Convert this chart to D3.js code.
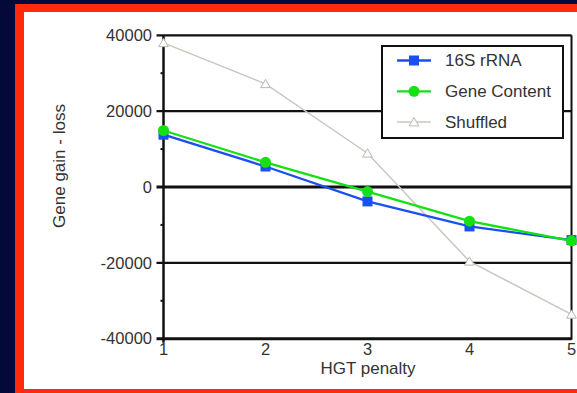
<!DOCTYPE html>
<html>
<head>
<meta charset="utf-8">
<script src="https://cdn.jsdelivr.net/npm/d3@7"></script>
<style>
  body { margin: 0; background: #030a3a; }
  svg { display: block; }
</style>
</head>
<body>
<div id="chart"></div>
<script>
// HGT penalty vs gene gain - loss
const penalties = [1, 2, 3, 4, 5];
const rrna16s = [13800, 5400, -3800, -10400, -14000];
const geneContent = [14900, 6500, -1200, -9000, -14200];
const shuffled = [38000, 27200, 8900, -19600, -33600];
const yTicks = [-40000, -20000, 0, 20000, 40000];
const yMinor = [-30000, -10000, 10000, 30000];

const series = [
  { name: "16S rRNA", values: rrna16s, color: "#1a4ff0", marker: "square" },
  { name: "Gene Content", values: geneContent, color: "#14e014", marker: "circle" },
  { name: "Shuffled", values: shuffled, color: "#c8c8c0", marker: "triangle" }
];

const width = 577, height = 393;
const font = "Liberation Sans, Arial, sans-serif";

const svg = d3.select("#chart").append("svg")
  .attr("width", width)
  .attr("height", height);

// frame: red border on left, top and bottom
svg.append("rect").attr("x", 15).attr("y", 4).attr("width", width - 15).attr("height", height - 4).attr("fill", "#ff2a0a");
svg.append("rect").attr("x", 24).attr("y", 12).attr("width", width - 24).attr("height", 377).attr("fill", "#ffffff");

const x = d3.scaleLinear().domain([1, 5]).range([163.5, 571.5]);
const y = d3.scaleLinear().domain([-40000, 40000]).range([338.7, 35.3]);

// horizontal lines
svg.append("g").selectAll("line")
  .data(yTicks)
  .join("line")
    .attr("x1", x(1) - 7)
    .attr("x2", x(5))
    .attr("y1", d => y(d))
    .attr("y2", d => y(d))
    .attr("stroke", "#111")
    .attr("stroke-width", d => (d === 0 || d === -40000) ? 3 : 2.2);

svg.append("g").selectAll("line")
  .data(yMinor)
  .join("line")
    .attr("x1", x(1) - 3)
    .attr("x2", x(1))
    .attr("y1", d => y(d))
    .attr("y2", d => y(d))
    .attr("stroke", "#111")
    .attr("stroke-width", 2);

// left & right borders
svg.append("line").attr("x1", x(1)).attr("x2", x(1)).attr("y1", y(40000)).attr("y2", y(-40000) + 4)
  .attr("stroke", "#111").attr("stroke-width", 2.5);
svg.append("line").attr("x1", x(5)).attr("x2", x(5)).attr("y1", y(40000)).attr("y2", y(-40000) + 1)
  .attr("stroke", "#111").attr("stroke-width", 2);

// tick labels
svg.append("g").selectAll("text")
  .data(yTicks)
  .join("text")
    .attr("x", 152)
    .attr("y", d => y(d))
    .attr("dy", "0.35em")
    .attr("text-anchor", "end")
    .attr("font-family", font)
    .attr("font-size", 16.5)
    .attr("fill", "#333")
    .text(d => d);

svg.append("g").selectAll("text")
  .data(penalties)
  .join("text")
    .attr("x", d => x(d))
    .attr("y", 355)
    .attr("text-anchor", "middle")
    .attr("font-family", font)
    .attr("font-size", 16.5)
    .attr("fill", "#333")
    .text(d => d);

svg.append("text")
  .attr("x", 368)
  .attr("y", 374)
  .attr("text-anchor", "middle")
  .attr("font-family", font)
  .attr("font-size", 17)
  .attr("fill", "#333")
  .text("HGT penalty");

svg.append("text")
  .attr("transform", "translate(65,166) rotate(-90)")
  .attr("text-anchor", "middle")
  .attr("font-family", font)
  .attr("font-size", 17)
  .attr("fill", "#333")
  .text("Gene gain - loss");

const line = d3.line()
  .x((d, i) => x(penalties[i]))
  .y(d => y(d));

function drawMarker(g, s, cx, cy) {
  if (s.marker === "square") {
    g.append("rect").attr("x", cx - 5).attr("y", cy - 5).attr("width", 10).attr("height", 10).attr("fill", s.color);
  } else if (s.marker === "circle") {
    g.append("circle").attr("cx", cx).attr("cy", cy).attr("r", 5.5).attr("fill", s.color);
  } else {
    g.append("path")
      .attr("d", d3.symbol(d3.symbolTriangle, 40)())
      .attr("transform", `translate(${cx},${cy + 1})`)
      .attr("fill", "#fff")
      .attr("stroke", "#b8b8b0")
      .attr("stroke-width", 1);
  }
}

// draw shuffled first, then 16S, then gene content on top
[series[2], series[0], series[1]].forEach(s => {
  const g = svg.append("g");
  g.append("path")
    .attr("d", line(s.values))
    .attr("fill", "none")
    .attr("stroke", s.color)
    .attr("stroke-width", s.marker === "triangle" ? 1.5 : 2.3);
  s.values.forEach((v, i) => drawMarker(g, s, x(penalties[i]), y(v)));
});

// legend
const legend = svg.append("g");
legend.append("rect")
  .attr("x", 382).attr("y", 46)
  .attr("width", 181).attr("height", 92)
  .attr("fill", "#fff")
  .attr("stroke", "#111")
  .attr("stroke-width", 2);

series.forEach((s, i) => {
  const ly = 60.5 + i * 30.8;
  legend.append("line")
    .attr("x1", 397).attr("x2", 431)
    .attr("y1", ly).attr("y2", ly)
    .attr("stroke", s.color)
    .attr("stroke-width", s.marker === "triangle" ? 1.5 : 2.3);
  drawMarker(legend, s, 414, ly);
  legend.append("text")
    .attr("x", 445)
    .attr("y", ly)
    .attr("dy", "0.35em")
    .attr("font-family", font)
    .attr("font-size", 17)
    .attr("fill", "#333")
    .text(s.name);
});
</script>
</body>
</html>
